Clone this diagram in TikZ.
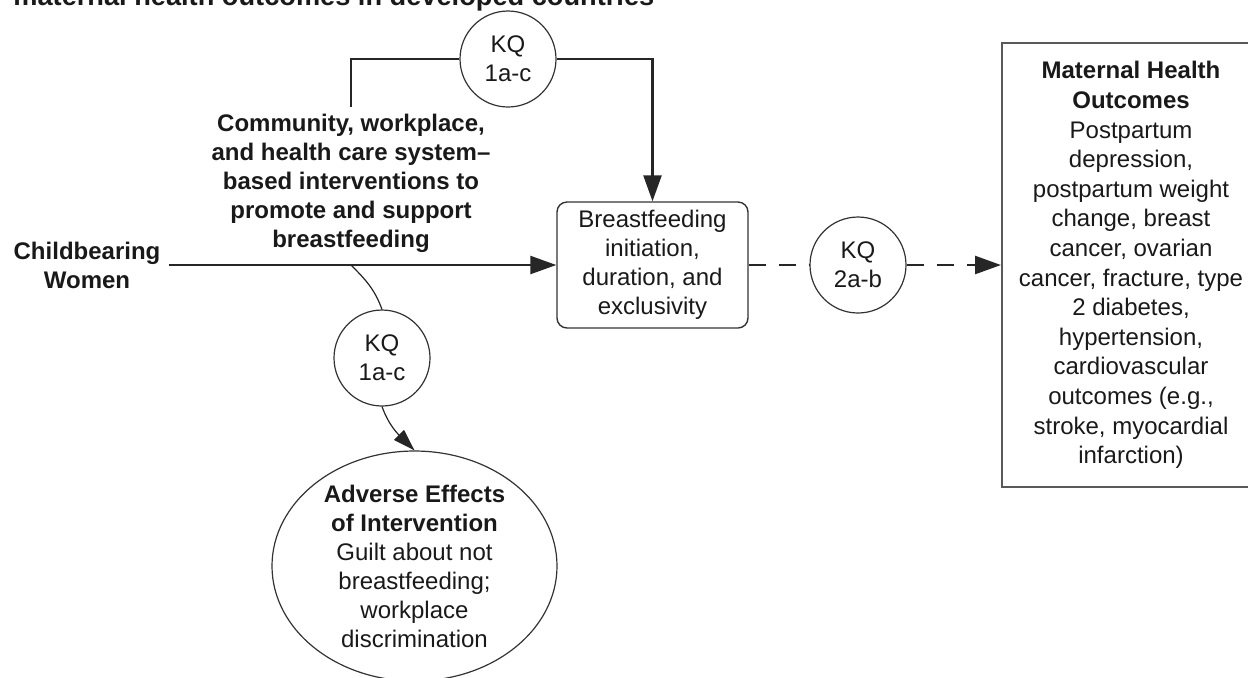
\documentclass[tikz,border=0pt]{standalone}
\usepackage{fontspec}
\setmainfont{Liberation Sans}
\usetikzlibrary{arrows.meta,shapes.geometric}

\begin{document}
\begin{tikzpicture}[
    x=0.5pt, y=0.5pt,
    every node/.style={
        text=black!90,
        font=\fontsize{12}{14.5}\selectfont,
    },
    bold/.style={
        font=\fontsize{12}{14.5}\selectfont\bfseries,
        align=center,
    },
    kq/.style={
        circle, draw=black!80, line width=0.6pt,
        fill=white, align=center,
        minimum size=48pt, inner sep=0pt,
    },
    roundbox/.style={
        rectangle, rounded corners=5pt,
        draw=black!80, line width=0.7pt,
        align=center,
        minimum width=95.5pt, minimum height=63pt,
        inner sep=2pt,
    },
    outbox/.style={
        rectangle, draw=black!65, line width=1pt,
        align=center,
        font=\fontsize{12}{14.8}\selectfont,
        minimum width=129pt, minimum height=222pt,
        inner sep=2pt,
    },
    oval/.style={
        ellipse, draw=black!80, line width=0.6pt,
        align=center,
        minimum width=142.5pt, minimum height=111pt,
        inner sep=0pt,
    },
    arrow/.style={
        -{Triangle[length=13pt,width=9pt]}, line width=1.2pt, black!85,
    },
    link/.style={
        line width=1.2pt, black!85,
    },
    dashlink/.style={
        line width=1.3pt, black!85, dash pattern=on 8.5pt off 6.5pt,
    },
    thinarrow/.style={
        -{Triangle[length=11pt,width=7pt]}, line width=0.6pt, black!85,
    },
]

\useasboundingbox (0,0) rectangle (1248,-677);

% title line, cut at the top of the figure
\node[anchor=base west, inner sep=0pt, font=\fontsize{13.6}{16}\selectfont\bfseries] (title) at (13,-5) {maternal health outcomes in developed countries};

% nodes
\node[bold, inner xsep=4pt] (women) at (87,-265) {Childbearing\\Women};
\node[bold, anchor=north, inner sep=3.5pt] (interv) at (351,-107) {Community, workplace,\\and health care system--\\based interventions to\\promote and support\\breastfeeding};
\node[kq] (kqtop) at (508,-59) {KQ\\1a-c};
\node[roundbox] (bf) at (652.5,-265) {Breastfeeding\\initiation,\\duration, and\\exclusivity};
\node[kq] (kqmid) at (858,-265) {KQ\\2a-b};
\node[outbox] (outc) at (1131,-265) {\textbf{Maternal Health}\\\textbf{Outcomes}\\Postpartum\\depression,\\postpartum weight\\change, breast\\cancer, ovarian\\cancer, fracture, type\\2 diabetes,\\hypertension,\\cardiovascular\\outcomes (e.g.,\\stroke, myocardial\\infarction)};
\node[kq] (kqlow) at (382,-358) {KQ\\1a-c};
\node[oval] (adverse) at (414.5,-566) {\textbf{Adverse Effects}\\\textbf{of Intervention}\\Guilt about not\\breastfeeding;\\workplace\\discrimination};

\coordinate (branch) at (interv.north |- bf.west);

% connectors
\draw[arrow] (women.east) -- (bf.west);
\draw[link] (interv.north) |- (kqtop.west);
\draw[arrow] (kqtop.east) -| (bf.north);
\draw[dashlink] (bf.east) -- (kqmid.west);
\draw[arrow, dash pattern=on 8.5pt off 6.5pt, line width=1.3pt] (kqmid.east) -- (outc.west);
\draw[line width=0.6pt, black!85] (branch) to[out=-45, in=110] (kqlow.north);
\draw[thinarrow] (kqlow.south) to[out=-70, in=135] (adverse.north);

\end{tikzpicture}
\end{document}
